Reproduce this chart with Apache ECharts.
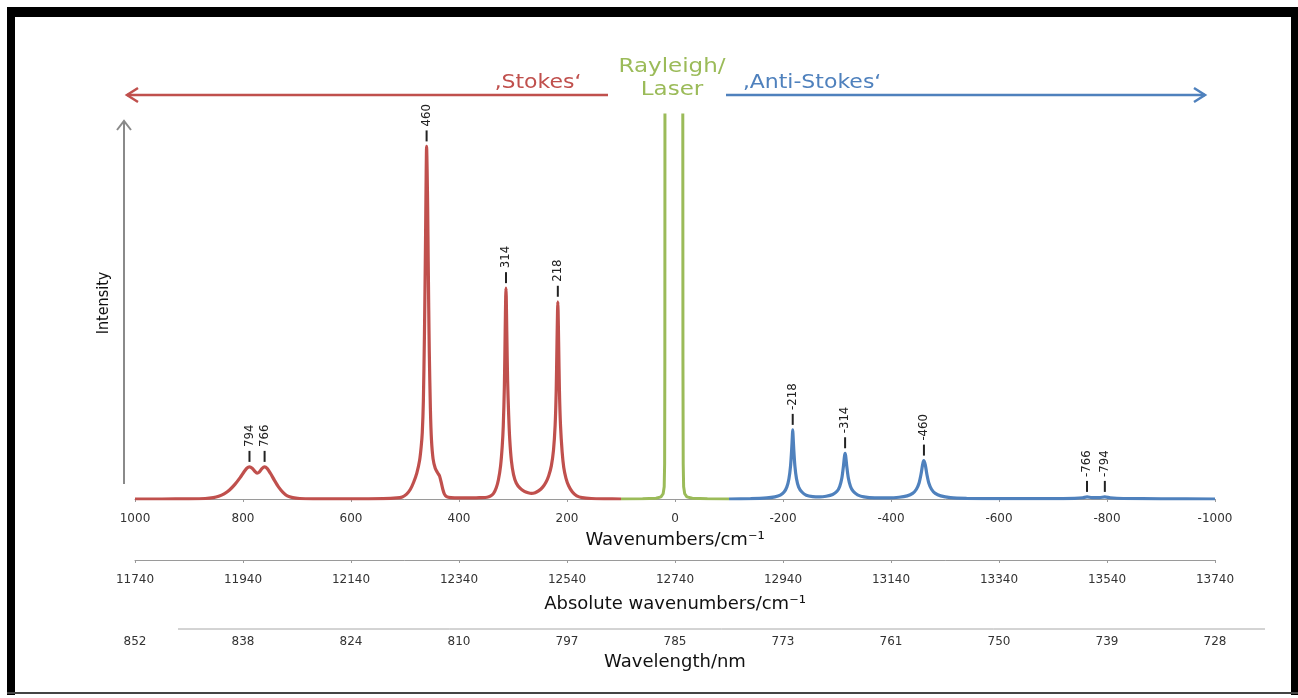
<!DOCTYPE html>
<html><head><meta charset="utf-8">
<script src="https://cdn.jsdelivr.net/npm/echarts@6.0.0/dist/echarts.min.js"></script>
<style>html,body{margin:0;padding:0;background:#fff}#c{width:1298px;height:698px}</style>
</head><body><div id="c"></div>
<script>
// ---- tick positions and labels ----
const relTicks = [1000, 800, 600, 400, 200, 0, -200, -400, -600, -800, -1000];
const relTickLabels = ['1000','800','600','400','200','0','-200','-400','-600','-800','-1000'];
const absTickLabels = ['11740','11940','12140','12340','12540','12740','12940','13140','13340','13540','13740'];
const wavelengthTickLabels = ['852','838','824','810','797','785','773','761','750','739','728'];

// ---- spectrum samples: [Raman shift (cm-1), intensity (a.u.)] ----
const stokesData = [
  [1000,0],[950,0],[900,0.05],[870,0.15],[855,0.4],[845,0.8],[835,1.5],[825,2.6],[815,4.2],[805,6.2],
  [798,7.8],[793,8.8],[788,9.2],[783,8.8],[778,7.9],[774,7.4],[770,7.7],[765,8.7],[760,9.2],[755,8.7],
  [749,7.3],[742,5.4],[734,3.4],[726,1.9],[718,0.9],[708,0.4],[695,0.15],[670,0.05],[600,0.02],[540,0.1],
  [515,0.3],[505,0.6],[497,1.4],[490,2.8],[484,4.8],[478,7.5],[473,11],[470,15],[468,19],[466,28],
  [464,47],[462,74],[461,90],[460,101],[459,94],[458,83],[457,68],[456,54],[455,42],[453,26],
  [451,17],[448,11.5],[444,8.8],[440,7.6],[436,6.6],[433,4.8],[430,2.8],[427,1.4],[423,0.7],[415,0.4],
  [400,0.3],[380,0.3],[360,0.4],[348,0.5],[342,0.8],[336,1.6],[331,3.2],[327,5.5],[323,9.5],[320,15],
  [318,21],[316,32],[314.5,48],[313.5,58],[313,60.4],[312.5,58],[311.5,48],[310,34],[308,24],[306,17],
  [303,11],[299,7],[294,4.6],[287,3.1],[279,2.2],[272,1.8],[266,1.6],[259,1.8],[252,2.4],[245,3.4],
  [239,4.8],[234,6.6],[229,9.5],[225,14],[222,21],[220,31],[218.5,45],[217.5,54],[217,56.5],[216.5,54],
  [215.5,45],[214,31],[212,21],[209,13.5],[206,9],[202,6],[197,3.8],[190,2],[182,0.9],[172,0.4],
  [155,0.15],[130,0.05],[100,0]
];
const rayleighData = [
  [100,0],[60,0.05],[35,0.2],[26,0.6],[22,1.5],[20,3.5],[19.2,10],[18.8,40],[18.5,150],[10,4000],
  [2,6000],[-6,4000],[-14.3,150],[-14.7,40],[-15.2,10],[-16,3.5],[-18,1.5],[-22,0.6],[-32,0.2],[-60,0.05],
  [-100,0]
];
const antiStokesData = [
  [-100,0],[-140,0.1],[-170,0.3],[-185,0.6],[-195,1.1],[-202,2],[-207,3.4],[-211,5.8],[-214,9.5],[-216,14],
  [-217.5,18.5],[-218,19.8],[-218.5,18.5],[-220,14],[-222,9.5],[-225,5.8],[-229,3.4],[-235,2],[-243,1.1],[-255,0.7],
  [-268,0.6],[-280,0.8],[-292,1.3],[-300,2.2],[-305,3.6],[-309,6],[-312,9.5],[-314,12.4],[-315,13.1],[-316,12.4],
  [-318,9.5],[-321,6],[-325,3.6],[-330,2.2],[-338,1.2],[-350,0.6],[-370,0.35],[-395,0.35],[-415,0.5],[-430,0.9],
  [-440,1.6],[-447,2.8],[-452,4.6],[-455.5,7],[-458.5,9.8],[-460.5,11],[-461.5,11],[-463.5,9.8],[-466.5,7],[-470,4.6],
  [-475,2.8],[-482,1.6],[-492,0.9],[-510,0.4],[-540,0.2],[-600,0.1],[-700,0.1],[-740,0.2],[-755,0.35],[-763,0.6],
  [-772,0.4],[-786,0.4],[-796,0.6],[-806,0.35],[-830,0.15],[-900,0.05],[-1000,0]
];

// ---- peak annotations ----
const peakPositions = [788, 760, 460, 313, 217, -218, -315, -461, -763, -796];
const peakHeights   = [9.2, 9.2, 101, 60.4, 56.5, 19.8, 13.1, 11, 0.6, 0.6];
const peakLabels    = ['794','766','460','314','218','-218','-314','-460','-766','-794'];

const RED = '#c0504d', GREEN = '#9bbb59', BLUE = '#4f81bd';
const FONT = '"DejaVu Sans", sans-serif';
const NARROW = '"Liberation Sans Narrow", "DejaVu Sans Condensed", "DejaVu Sans", sans-serif';

function tickFmt(labels) {
  return function (v) {
    const i = relTicks.indexOf(Math.round(v));
    return i < 0 ? '' : labels[i];
  };
}
function makeX(extra) {
  return Object.assign({
    type: 'value', min: -1000, max: 1000, interval: 200, inverse: true, position: 'bottom',
    splitLine: { show: false }, nameLocation: 'middle',
    nameTextStyle: { fontFamily: FONT, fontSize: 18, color: '#111' },
    axisLine: { lineStyle: { color: '#9a9a9a', width: 1 } },
    axisTick: { length: 3, lineStyle: { color: '#9a9a9a' } }
  }, extra);
}

const chart = echarts.init(document.getElementById('c'), null, { renderer: 'canvas' });
chart.setOption({
  animation: false,
  backgroundColor: '#ffffff',
  grid: { left: 135, right: 83, top: 115, bottom: 199, containLabel: false },
  xAxis: [
    makeX({ name: 'Wavenumbers/cm⁻¹', nameGap: 32,
      axisLabel: { fontFamily: FONT, fontSize: 12, color: '#333', margin: 14, formatter: tickFmt(relTickLabels) } }),
    makeX({ offset: 61, name: 'Absolute wavenumbers/cm⁻¹', nameGap: 35,
      axisLabel: { fontFamily: FONT, fontSize: 12, color: '#333', margin: 14, formatter: tickFmt(absTickLabels) } }),
    makeX({ offset: 130, name: 'Wavelength/nm', nameGap: 24, axisLine: { show: false }, axisTick: { show: false },
      axisLabel: { fontFamily: FONT, fontSize: 12, color: '#333', margin: 7, formatter: tickFmt(wavelengthTickLabels) } })
  ],
  yAxis: { type: 'value', min: 0, max: 110, show: false },
  series: [
    { name: 'Stokes', type: 'line', data: stokesData, symbol: 'none', smooth: 0.25,
      lineStyle: { color: RED, width: 3.2 }, z: 3 },
    { name: 'Rayleigh', type: 'line', data: rayleighData, symbol: 'none', smooth: false,
      lineStyle: { color: GREEN, width: 3 }, z: 3 },
    { name: 'Anti-Stokes', type: 'line', data: antiStokesData, symbol: 'none', smooth: 0.25,
      lineStyle: { color: BLUE, width: 3.2 }, z: 3 },
    { name: 'peaks', type: 'custom', silent: true, z: 5,
      data: peakPositions.map((x, i) => [x, peakHeights[i]]),
      renderItem: function (params, api) {
        const p = api.coord([api.value(0), api.value(1)]);
        return { type: 'group', children: [
          { type: 'line', shape: { x1: p[0], y1: p[1] - 5, x2: p[0], y2: p[1] - 16 },
            style: { stroke: '#222', lineWidth: 2 } },
          { type: 'text', x: p[0], y: p[1] - 20, rotation: Math.PI / 2,
            style: { text: peakLabels[params.dataIndex], fill: '#222', font: '13px ' + NARROW,
                     align: 'left', verticalAlign: 'middle' } }
        ] };
      }
    }
  ],
  graphic: { elements: [
    // frame
    { type: 'rect', shape: { x: 7, y: 7, width: 1291, height: 10 }, style: { fill: '#000' } },
    { type: 'rect', shape: { x: 7, y: 7, width: 8, height: 688 }, style: { fill: '#000' } },
    { type: 'rect', shape: { x: 1291, y: 7, width: 7, height: 688 }, style: { fill: '#000' } },
    { type: 'rect', shape: { x: 7, y: 692, width: 1291, height: 2 }, style: { fill: '#444' } },
    // wavelength axis line
    { type: 'line', shape: { x1: 178, y1: 629, x2: 1265, y2: 629 }, style: { stroke: '#a8a8a8', lineWidth: 1 } },
    // Stokes arrow
    { type: 'line', shape: { x1: 608, y1: 95, x2: 127, y2: 95 }, style: { stroke: RED, lineWidth: 2.5 } },
    { type: 'polyline', shape: { points: [[138, 88], [127, 95], [138, 102]] }, style: { stroke: RED, lineWidth: 2.5, fill: null } },
    // Anti-Stokes arrow
    { type: 'line', shape: { x1: 726, y1: 95, x2: 1205, y2: 95 }, style: { stroke: BLUE, lineWidth: 2.5 } },
    { type: 'polyline', shape: { points: [[1194, 88], [1205, 95], [1194, 102]] }, style: { stroke: BLUE, lineWidth: 2.5, fill: null } },
    // Intensity arrow
    { type: 'line', shape: { x1: 124, y1: 484, x2: 124, y2: 121 }, style: { stroke: '#8a8a8a', lineWidth: 2 } },
    { type: 'polyline', shape: { points: [[117, 130], [124, 121], [131, 130]] }, style: { stroke: '#8a8a8a', lineWidth: 2, fill: null } },
    // texts
    { type: 'text', x: 538, y: 83, scaleX: 1.1, style: { text: '‚Stokes‘', fill: RED, font: '20px ' + FONT, align: 'center', verticalAlign: 'middle' } },
    { type: 'text', x: 672, y: 67, scaleX: 1.15, style: { text: 'Rayleigh/', fill: GREEN, font: '20px ' + FONT, align: 'center', verticalAlign: 'middle' } },
    { type: 'text', x: 672, y: 90, scaleX: 1.15, style: { text: 'Laser', fill: GREEN, font: '20px ' + FONT, align: 'center', verticalAlign: 'middle' } },
    { type: 'text', x: 812, y: 83, scaleX: 1.1, style: { text: '‚Anti-Stokes‘', fill: BLUE, font: '20px ' + FONT, align: 'center', verticalAlign: 'middle' } },
    { type: 'text', x: 104, y: 303, rotation: Math.PI / 2, style: { text: 'Intensity', fill: '#111', font: '16px ' + NARROW, align: 'center', verticalAlign: 'middle' } }
  ] }
});
</script></body></html>
